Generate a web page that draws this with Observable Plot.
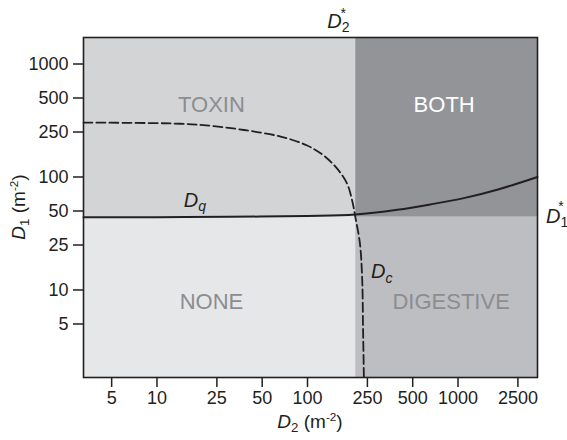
<!DOCTYPE html>
<html>
<head>
<meta charset="utf-8">
<script src="https://cdn.jsdelivr.net/npm/d3@7"></script>
<script src="https://cdn.jsdelivr.net/npm/@observablehq/plot@0.6"></script>
<style>
  html, body { margin: 0; padding: 0; background: #fff; }
  #chart { width: 567px; height: 440px; }
</style>
</head>
<body>
<div id="chart"></div>
<script>
// ---- data ----
const xTicks = [5, 10, 25, 50, 100, 250, 500, 1000, 2500];
const yTicks = [5, 10, 25, 50, 100, 250, 500, 1000];
const xDomain = [3.25, 3373];
const yDomain = [1.68, 1716];
const D2star = 209;
const D1star = 44;

const regionNames = ["TOXIN", "BOTH", "NONE", "DIGESTIVE"];
const regionFills = ["#d3d4d6", "#939497", "#e6e7e9", "#bdbec1"];
const regionText = ["#8c8d90", "#ffffff", "#8c8d90", "#8c8d90"];
const regionLabelX = [23, 809, 23, 900];
const regionLabelY = [433, 433, 7.9, 7.9];

// Dq (solid) curve
const dqD2 = [3.25, 10, 30, 100, 208, 395, 656, 1094, 1820, 3373];
const dqD1 = [44, 44.1, 44.4, 45.2, 46.6, 51.3, 57.2, 65, 77.1, 100];
// Dc (dashed) curve
const dcD2 = [3.25, 14.3, 23.8, 39.7, 66.2, 99.5, 128, 157, 183, 198, 208, 223, 231, 234, 237];
const dcD1 = [303, 296, 282, 258, 228, 190, 155, 119, 87.5, 62, 44, 25.8, 12.1, 4.39, 1.68];

// ---- tables built from the arrays ----
const regions = regionNames.map((name, i) => ({
  name,
  fill: regionFills[i],
  text: regionText[i],
  lx: regionLabelX[i],
  ly: regionLabelY[i],
  x1: i % 2 === 0 ? xDomain[0] : D2star,
  x2: i % 2 === 0 ? D2star : xDomain[1],
  y1: i < 2 ? D1star : yDomain[0],
  y2: i < 2 ? yDomain[1] : D1star
}));
const dq = dqD2.map((x, i) => ({x, y: dqD1[i]}));
const dc = dcD2.map((x, i) => ({x, y: dcD1[i]}));

const ink = "#231f20";
const font = "'Liberation Sans', Arial, Helvetica, sans-serif";
const label = d => String(d);

const chart = Plot.plot({
  width: 567,
  height: 440,
  marginLeft: 83,
  marginRight: 30,
  marginTop: 37,
  marginBottom: 63,
  style: {fontFamily: font, fontSize: "18px", background: "#fff", color: ink},
  x: {type: "log", domain: xDomain},
  y: {type: "log", domain: yDomain},
  marks: [
    Plot.rect(regions, {x1: "x1", x2: "x2", y1: "y1", y2: "y2", fill: "fill"}),
    Plot.text(regions, {x: "lx", y: "ly", text: "name", fill: "text", fontSize: 22, letterSpacing: 1.4, textAnchor: "middle", lineAnchor: "middle"}),
    Plot.line(dc, {x: "x", y: "y", stroke: ink, strokeWidth: 1.8, strokeDasharray: "9,4", curve: "catmull-rom"}),
    Plot.line(dq, {x: "x", y: "y", stroke: ink, strokeWidth: 2, curve: "catmull-rom"}),
    Plot.frame({stroke: ink, strokeWidth: 1.6}),
    Plot.axisX({ticks: xTicks, tickSize: 10, tickPadding: 4, tickFormat: label, text: label, label: null, fontSize: 18, strokeWidth: 1.5, color: ink}),
    Plot.axisY({ticks: yTicks, tickSize: 10, tickPadding: 5, tickFormat: label, text: label, label: null, fontSize: 18, strokeWidth: 1.5, color: ink})
  ]
});

document.getElementById("chart").appendChild(chart);

// ---- rich text annotations (italic symbols with sub/superscripts) ----
const sx = chart.scale("x");
const sy = chart.scale("y");
const svg = d3.select(chart);
const g = svg.append("g").attr("font-family", font).attr("fill", ink);

function rich(x, y, parts, opts = {}) {
  const fs = opts.fontSize || 20;
  const t = g.append("text")
    .attr("font-size", fs)
    .attr("text-anchor", opts.anchor || "start");
  if (opts.rotate) {
    t.attr("transform", `translate(${x},${y}) rotate(${opts.rotate})`);
  } else {
    t.attr("x", x).attr("y", y);
  }
  let offset = 0;
  for (const [txt, kind] of parts) {
    const s = t.append("tspan").text(txt);
    let target = 0;
    if (kind === "sub") { target = fs * 0.22; s.attr("font-size", fs * 0.7); }
    else if (kind === "sup") { target = -fs * 0.38; s.attr("font-size", fs * 0.62); }
    if (kind === "i") s.attr("font-style", "italic");
    if (kind === "isub") { target = fs * 0.22; s.attr("font-size", fs * 0.7).attr("font-style", "italic"); }
    if (target !== offset) s.attr("dy", target - offset);
    offset = target;
  }
  return t;
}

// D2* above the vertical boundary
const bx = sx.apply(D2star);
rich(bx - 28, 28, [["D", "i"], ["2", "sub"]], {fontSize: 20});
g.append("text").attr("x", bx - 12).attr("y", 18).attr("font-size", 14).text("*");

// D1* right of the horizontal boundary
const by = sy.apply(D1star);
rich(546, by + 6, [["D", "i"], ["1", "sub"]], {fontSize: 20});
g.append("text").attr("x", 561).attr("y", by - 6).attr("font-size", 14).text("*");

// Dq and Dc curve labels
rich(sx.apply(15.2), sy.apply(53.7), [["D", "i"], ["q", "isub"]], {fontSize: 20});
rich(sx.apply(266), sy.apply(12.6), [["D", "i"], ["c", "isub"]], {fontSize: 20});

// axis titles
rich(310, 428, [["D", "i"], ["2", "sub"], [" (m", "n"], ["-2", "sup"], [")", "n"]], {fontSize: 19, anchor: "middle"});
rich(25, 207, [["D", "i"], ["1", "sub"], [" (m", "n"], ["-2", "sup"], [")", "n"]], {fontSize: 19, anchor: "middle", rotate: -90});
</script>
</body>
</html>
